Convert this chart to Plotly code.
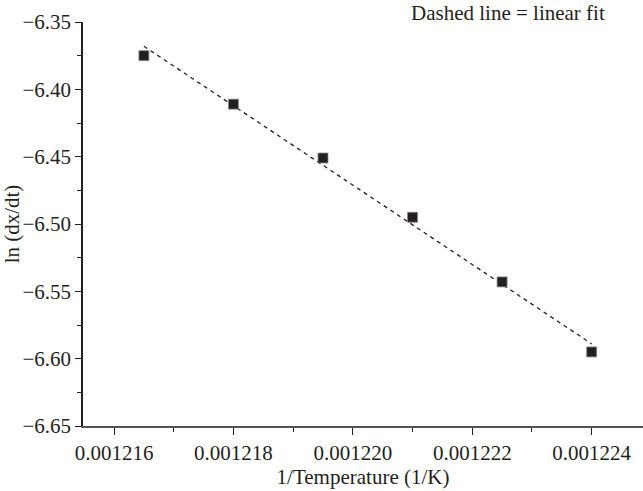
import plotly.graph_objects as go

# Data
inv_temp = [0.0012165, 0.0012180, 0.0012195, 0.0012210, 0.0012225, 0.0012240]
ln_rate = [-6.375, -6.411, -6.451, -6.495, -6.543, -6.595]

fit_x = [0.0012165, 0.0012240]
fit_y = [-6.368, -6.589]

x_tickvals = [0.001216, 0.001218, 0.001220, 0.001222, 0.001224]
y_tickvals = [-6.65, -6.60, -6.55, -6.50, -6.45, -6.40, -6.35]

FONT = "Liberation Serif, Times New Roman, serif"
INK = "#231f20"

fig = go.Figure()
fig.add_trace(go.Scatter(
    x=fit_x, y=fit_y, mode="lines",
    line=dict(color=INK, width=1.3, dash="4px,4px"),
    showlegend=False, hoverinfo="skip",
))
fig.add_trace(go.Scatter(
    x=inv_temp, y=ln_rate, mode="markers",
    marker=dict(symbol="square", size=10, color=INK,
                line=dict(color="#8a8a8a", width=0.8)),
    showlegend=False,
))

fig.update_layout(
    width=643, height=491,
    margin=dict(l=83, r=0, t=22, b=65, autoexpand=False),
    paper_bgcolor="white", plot_bgcolor="white",
    font=dict(family=FONT, size=21, color=INK),
    annotations=[dict(
        text="Dashed line = linear fit", xref="paper", yref="paper",
        x=0.582, y=1.022, xanchor="left", yanchor="middle", showarrow=False,
        font=dict(family=FONT, size=21, color=INK),
    )],
)
fig.update_xaxes(
    range=[0.00121548, 0.00122486], automargin=False,
    tickvals=x_tickvals, tickformat=".6f",
    ticks="outside", ticklen=7, tickwidth=1.2, tickcolor=INK,
    minor=dict(ticks="outside", ticklen=4, dtick=1e-6, tick0=0.001216, tickcolor=INK, tickwidth=1.2),
    showline=True, linecolor="#555555", linewidth=1.5,
    showgrid=False, zeroline=False,
    tickfont=dict(size=21),
    title=dict(text="1/Temperature (1/K)", font=dict(size=21), standoff=2),
)
fig.update_yaxes(
    range=[-6.65, -6.35], automargin=False,
    tickvals=y_tickvals, tickformat=".2f",
    ticks="outside", ticklen=6, tickwidth=1.2, tickcolor=INK,
    minor=dict(ticks="outside", ticklen=4, dtick=0.025, tick0=-6.65, tickcolor=INK, tickwidth=1.2),
    showline=True, linecolor=INK, linewidth=1.5,
    showgrid=False, zeroline=False,
    tickfont=dict(size=21),
    title=dict(text="ln (dx/dt)", font=dict(size=21), standoff=4),
)

fig.write_html(
    "out.html",
    config={"displayModeBar": False},
    post_script="document.body.style.margin='0';document.body.style.padding='0';document.body.style.overflow='hidden';",
)
